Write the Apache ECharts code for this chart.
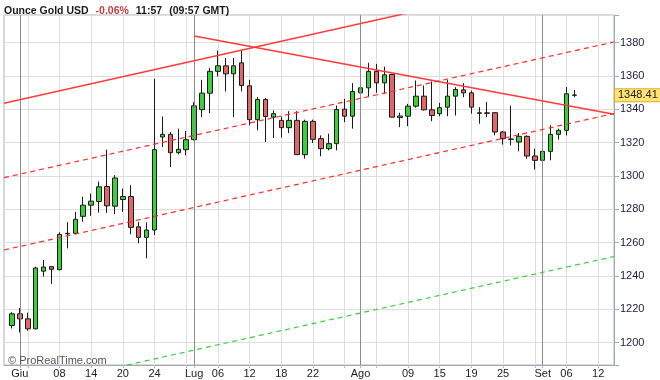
<!DOCTYPE html>
<html>
<head>
<meta charset="utf-8">
<script src="https://cdn.jsdelivr.net/npm/echarts@6/dist/echarts.min.js"></script>
<style>html,body{margin:0;padding:0;background:#fff;}#c{width:660px;height:380px;}</style>
</head>
<body>
<div id="c"></div>
<script>
// axis categories (trading days, with empty padding days at both ends)
const dates = ['2016-05-30','2016-05-31',
'2016-06-01','2016-06-02','2016-06-03','2016-06-06','2016-06-07','2016-06-08','2016-06-09','2016-06-10','2016-06-13','2016-06-14','2016-06-15','2016-06-16','2016-06-17','2016-06-20','2016-06-21','2016-06-22','2016-06-23','2016-06-24','2016-06-27','2016-06-28','2016-06-29','2016-06-30',
'2016-07-01','2016-07-04','2016-07-05','2016-07-06','2016-07-07','2016-07-08','2016-07-11','2016-07-12','2016-07-13','2016-07-14','2016-07-15','2016-07-18','2016-07-19','2016-07-20','2016-07-21','2016-07-22','2016-07-25','2016-07-26','2016-07-27','2016-07-28','2016-07-29',
'2016-08-01','2016-08-02','2016-08-03','2016-08-04','2016-08-05','2016-08-08','2016-08-09','2016-08-10','2016-08-11','2016-08-12','2016-08-15','2016-08-16','2016-08-17','2016-08-18','2016-08-19','2016-08-22','2016-08-23','2016-08-24','2016-08-25','2016-08-26','2016-08-29','2016-08-30','2016-08-31',
'2016-09-01','2016-09-02','2016-09-05','2016-09-06','2016-09-07','2016-09-08','2016-09-09','2016-09-12','2016-09-13','2016-09-14'];
// first date that carries a candle
const firstCandleDate = '2016-05-31';

const opens = [1210.3,1217.3,1214.3,1208.3,1242.9,1245.6,1243.8,1265.6,1265.6,1275.8,1282.5,1284.7,1293.7,1281.9,1285.9,1287.7,1269.5,1263.2,1267.6,1323.4,1325.0,1314.0,1315.8,1321.8,1339.8,1349.7,1362.8,1366.1,1361.3,1367.9,1354.1,1333.8,1345.9,1335.3,1333.4,1329.0,1333.4,1312.8,1332.8,1322.4,1316.4,1319.4,1340.1,1335.9,1349.9,1352.9,1362.8,1355.9,1360.9,1335.0,1335.9,1341.9,1347.9,1339.7,1337.4,1341.3,1347.9,1351.7,1349.9,1337.9,1337.9,1338.0,1326.4,1322.2,1320.4,1323.8,1312.0,1309.4,1314.8,1325.0,1327.4,1348.6];
const closes = [1217.3,1214.3,1208.3,1244.8,1245.4,1244.0,1265.0,1265.3,1274.0,1282.5,1284.9,1293.5,1282.1,1298.8,1287.7,1269.2,1263.2,1267.6,1315.8,1325.0,1314.0,1316.0,1321.8,1342.1,1349.7,1362.8,1366.1,1361.3,1366.1,1354.3,1333.8,1345.9,1335.7,1337.4,1329.0,1333.4,1312.8,1332.8,1322.0,1316.4,1319.4,1339.9,1335.9,1350.7,1352.9,1362.8,1355.9,1360.7,1335.3,1336.0,1341.9,1347.9,1339.7,1336.3,1341.0,1347.9,1351.9,1349.9,1341.3,1337.6,1337.6,1326.4,1322.4,1322.0,1323.8,1312.0,1309.4,1314.8,1325.0,1327.4,1349.3,1348.41];
const lows = [1208.5,1206.1,1207.2,1208.0,1239.6,1235.3,1243.4,1256.6,1265.0,1272.5,1276.1,1278.1,1277.9,1277.1,1278.5,1265.0,1259.6,1250.6,1264.6,1317.4,1305.4,1313.0,1312.4,1321.4,1335.3,1337.7,1359.7,1350.7,1335.3,1350.7,1330.4,1327.4,1320.4,1322.8,1323.0,1325.8,1312.8,1310.4,1319.8,1311.8,1315.4,1315.4,1332.3,1328.4,1347.3,1347.3,1349.9,1349.3,1335.3,1329.3,1329.9,1341.0,1339.3,1332.9,1335.9,1335.9,1336.3,1347.3,1337.4,1331.4,1335.3,1324.4,1318.8,1318.4,1314.8,1310.4,1303.9,1302.4,1309.4,1321.8,1324.4,1347.3];
const highs = [1218.3,1220.7,1218.0,1245.6,1249.6,1246.0,1266.2,1272.3,1278.5,1287.5,1289.5,1296.7,1315.8,1300.5,1292.5,1294.5,1272.5,1272.2,1358.3,1335.7,1326.4,1328.4,1327.0,1344.3,1357.7,1364.9,1375.2,1370.8,1370.8,1375.2,1357.7,1347.3,1346.9,1339.3,1335.7,1338.9,1338.9,1333.8,1333.8,1324.4,1325.4,1342.3,1346.3,1355.7,1355.3,1367.9,1367.3,1365.6,1361.3,1338.0,1343.3,1357.3,1354.3,1356.7,1343.9,1357.7,1353.3,1355.7,1351.3,1341.3,1344.3,1338.3,1327.0,1342.3,1325.8,1324.4,1316.4,1314.8,1330.4,1328.4,1353.3,1351.7];
const lastPrice = 1348.41;

// x-axis tick labels
const labelDates = ['2016-06-01','2016-06-08','2016-06-14','2016-06-20','2016-06-24','2016-07-01','2016-07-06','2016-07-12','2016-07-18','2016-07-22','2016-08-01','2016-08-09','2016-08-15','2016-08-19','2016-08-25','2016-09-01','2016-09-06','2016-09-12'];
const labelTexts = ['Giu','08','14','20','24','Lug','06','12','18','22','Ago','09','15','19','25','Set','06','12'];
const gridDates = ['2016-06-02','2016-06-08','2016-06-14','2016-06-20','2016-06-24','2016-06-30','2016-07-06','2016-07-12','2016-07-18','2016-07-22','2016-07-28','2016-08-03','2016-08-09','2016-08-15','2016-08-19','2016-08-25','2016-08-31','2016-09-06','2016-09-12'];
const monthDates = ['2016-06-01','2016-07-01','2016-08-01','2016-09-01'];

// drawn trend lines: [date, price] endpoints
const trendUpSolid = [['2016-05-30',1343.6],['2016-09-14',1425.5]];
const trendDownSolid = [['2016-07-01',1384.0],['2016-09-14',1337.0]];
const channelUpper = [['2016-05-30',1299.0],['2016-09-14',1380.4]];
const channelMid = [['2016-05-30',1255.6],['2016-09-14',1337.5]];
const channelLower = [['2016-05-30',1170.1],['2016-09-14',1251.7]];

const labelMap = {};
labelDates.forEach((d, i) => { labelMap[d] = labelTexts[i]; });
const gridSet = new Set(gridDates);
const start = dates.indexOf(firstCandleDate);
const candleData = dates.map((d, i) => {
  const k = i - start;
  if (k < 0 || k >= opens.length) return '-';
  return [opens[k], closes[k], lows[k], highs[k]];
});

const FONT = 'Liberation Sans, Arial, sans-serif';
const chart = echarts.init(document.getElementById('c'), null, {renderer: 'canvas'});

function trend(data, color, type, width) {
  return {
    type: 'line', data: data, showSymbol: false, symbol: 'none', silent: true,
    lineStyle: {color: color, width: width, type: type}, z: 5, clip: true
  };
}

chart.setOption({
  animation: false,
  backgroundColor: '#ffffff',
  textStyle: {fontFamily: FONT},
  title: [{
    left: 4, top: 2, padding: 0,
    text: '{a|Ounce Gold USD}{g|}{r|-0.06%}{g|}{a|11:57}{g|}{a|(09:57 GMT)}',
    textStyle: {
      rich: {
        a: {fontSize: 10.5, color: '#1a1a1a', fontFamily: FONT},
        r: {fontSize: 10.5, color: '#c83c3c', fontFamily: FONT},
        g: {width: 7}
      }
    }
  }, {
    left: 8, top: 355, padding: 0,
    text: '© ProRealTime.com',
    textStyle: {fontSize: 11, color: '#555', fontWeight: 'normal', fontFamily: FONT}
  }],
  grid: {left: 4, right: 46, top: 15, bottom: 15, show: true, borderColor: '#aab3bd', borderWidth: 1, backgroundColor: '#fff'},
  xAxis: {
    type: 'category', data: dates, boundaryGap: false,
    axisLine: {show: true, lineStyle: {color: '#9faab5'}},
    axisTick: {show: true, length: 3, interval: (i, v) => gridSet.has(v) || monthDates.includes(v), lineStyle: {color: '#b0b8c0'}},
    axisLabel: {
      interval: (i, v) => labelMap[v] !== undefined,
      formatter: (v) => labelMap[v] || '',
      fontSize: 11, color: '#222', margin: 3, fontFamily: FONT
    },
    splitLine: {show: true, interval: (i, v) => gridSet.has(v), lineStyle: {color: '#dedede', width: 1}}
  },
  yAxis: {
    type: 'value', position: 'right', min: 1186.6, max: 1396.6, splitNumber: 10, scale: true,
    axisLine: {show: true, lineStyle: {color: '#9faab5'}},
    axisTick: {show: true, length: 5, lineStyle: {color: '#9faab5'}},
    axisLabel: {fontSize: 11, color: '#1c1c3c', margin: 6, fontFamily: FONT,
      formatter: (v) => (Math.abs(v % 20) < 1e-6 ? String(v) : '')},
    splitLine: {show: true, lineStyle: {color: '#dedede', width: 1}}
  },
  series: [
    {
      type: 'candlestick', data: candleData, barWidth: 5, z: 3,
      itemStyle: {color: '#3ccf3c', color0: '#e26666', borderColor: '#1a1a1a', borderColor0: '#1a1a1a', borderWidth: 1},
      markLine: {
        silent: true, symbol: 'none', animation: false,
        data: monthDates.map(d => ({xAxis: d, lineStyle: {color: '#8c8c8c', width: 1, type: 'solid'}, label: {show: false}}))
      }
    },
    trend(trendUpSolid, '#ff3a3a', 'solid', 1.5),
    trend(trendDownSolid, '#ff3a3a', 'solid', 1.5),
    trend(channelUpper, '#ff2a2a', [5, 4], 1.2),
    trend(channelMid, '#ff2a2a', [5, 4], 1.2),
    {
      type: 'line', data: channelLower, showSymbol: false, symbol: 'none', silent: true,
      lineStyle: {color: '#3ccf3c', width: 1.2, type: [5, 4]}, z: 5, clip: true,
      markLine: {
        silent: true, symbol: 'none', animation: false,
        data: [{
          yAxis: lastPrice,
          lineStyle: {color: 'rgba(0,0,0,0)', width: 0, opacity: 1},
          label: {
            show: true, position: 'end', distance: 1, formatter: String(lastPrice), opacity: 1,
            fontSize: 11, color: '#222', fontFamily: FONT,
            backgroundColor: '#ffe278', borderColor: '#e0b020', borderWidth: 1, padding: [1, 3, 0, 3]
          }
        }]
      }
    }
  ]
});
</script>
</body>
</html>
